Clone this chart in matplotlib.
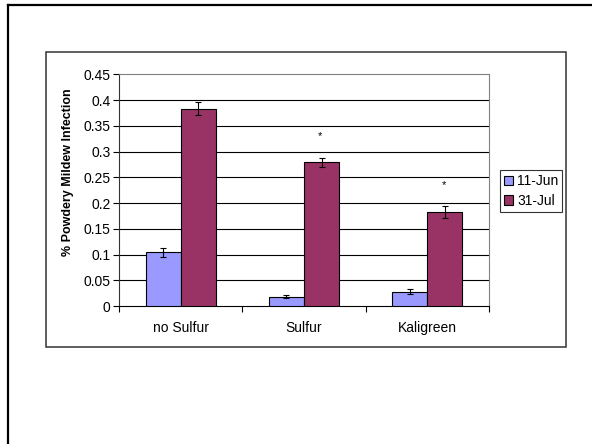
import matplotlib
matplotlib.use("Agg")
import matplotlib.pyplot as plt
import numpy as np
from matplotlib.patches import Rectangle, Patch
from matplotlib.lines import Line2D

plt.rcParams['font.family'] = ['Liberation Sans', 'DejaVu Sans']

categories = ["no Sulfur", "Sulfur", "Kaligreen"]
series_names = ["11-Jun", "31-Jul"]
jun_values = [0.104, 0.018, 0.028]
jun_errors = [0.008, 0.003, 0.005]
jul_values = [0.383, 0.279, 0.182]
jul_errors = [0.013, 0.009, 0.012]
jul_significant = [False, True, True]
y_ticks = [0, 0.05, 0.1, 0.15, 0.2, 0.25, 0.3, 0.35, 0.4, 0.45]
y_tick_labels = ["0", "0.05", "0.1", "0.15", "0.2", "0.25", "0.3", "0.35", "0.4", "0.45"]

colors = ["#9999FF", "#993366"]

W, H = 592, 444
fig = plt.figure(figsize=(W / 100, H / 100), dpi=100)

# page border (left and top edges)
fig.add_artist(Line2D([7.7 / W, 7.7 / W], [0, 1 - 4.8 / H], transform=fig.transFigure,
                      color="black", lw=1.6, solid_capstyle="projecting"))
fig.add_artist(Line2D([7.7 / W, 1], [1 - 4.8 / H, 1 - 4.8 / H], transform=fig.transFigure,
                      color="black", lw=1.6, solid_capstyle="projecting"))

# chart area frame
fig.add_artist(Rectangle((45.7 / W, 1 - 346.7 / H), (566.3 - 45.7) / W, (346.7 - 51.7) / H,
                         transform=fig.transFigure, fill=False, edgecolor="#333333", lw=1.1))

ax = fig.add_axes([119 / W, 1 - 306 / H, (489 - 119) / W, (306 - 74.3) / H])

x = np.arange(len(categories))
bw = 0.285
ax.bar(x - bw / 2, jun_values, bw, color=colors[0], edgecolor="black", linewidth=0.8,
       zorder=3, label=series_names[0])
ax.bar(x + bw / 2, jul_values, bw, color=colors[1], edgecolor="black", linewidth=0.8,
       zorder=3, label=series_names[1])
ax.errorbar(x - bw / 2, jun_values, yerr=jun_errors, fmt="none", ecolor="black",
            elinewidth=0.8, capsize=2.5, capthick=0.8, zorder=4)
ax.errorbar(x + bw / 2, jul_values, yerr=jul_errors, fmt="none", ecolor="black",
            elinewidth=0.8, capsize=2.5, capthick=0.8, zorder=4)

for xi, v, e, sig in zip(x, jul_values, jul_errors, jul_significant):
    if sig:
        ax.annotate("*", (xi + bw / 2, v + e), xytext=(-1, 15.5), textcoords="offset points",
                    ha="center", va="center", fontsize=8, zorder=5)

ax.set_xlim(-0.5, len(categories) - 0.5)
ax.set_ylim(0, 0.45)
ax.set_yticks(y_ticks)
ax.set_yticklabels(y_tick_labels, fontsize=10)
ax.set_xticks(x)
ax.set_xticklabels(categories, fontsize=10)
ax.tick_params(axis="x", which="major", length=0, pad=11)
ax.set_xticks(np.arange(len(categories) + 1) - 0.5, minor=True)
ax.tick_params(axis="x", which="minor", length=4, width=0.8, direction="out")
ax.tick_params(axis="y", length=4, width=0.8, direction="out", pad=2)

for yv in y_ticks[1:-1]:
    ax.axhline(yv, color="black", lw=0.8, zorder=1)

ax.spines["left"].set_color("#333333")
ax.spines["bottom"].set_color("black")
ax.spines["top"].set_color("#808080")
ax.spines["right"].set_color("#808080")
for s in ax.spines.values():
    s.set_linewidth(0.8)

ax.set_ylabel("% Powdery Mildew Infection", fontsize=9, fontweight="bold")
ax.yaxis.set_label_coords((67.5 - 119) / (489 - 119), 1 - (172.5 - 74.3) / (306 - 74.3))
ax.yaxis.label.set_va("center")

handles = [Patch(facecolor=colors[0], edgecolor="black", lw=0.8),
           Patch(facecolor=colors[1], edgecolor="black", lw=0.8)]
leg = fig.legend(handles, series_names, loc="center",
                 bbox_to_anchor=((499.3 + 562.7) / 2 / W, 1 - (171.7 + 210.7) / 2 / H),
                 fontsize=10, frameon=True, fancybox=False, handlelength=0.65,
                 handleheight=0.65, handletextpad=0.3, borderpad=0.3, labelspacing=0.4,
                 borderaxespad=0)
leg.get_frame().set_edgecolor("black")
leg.get_frame().set_linewidth(0.8)

fig.savefig("out.png", dpi=100, facecolor="white")
